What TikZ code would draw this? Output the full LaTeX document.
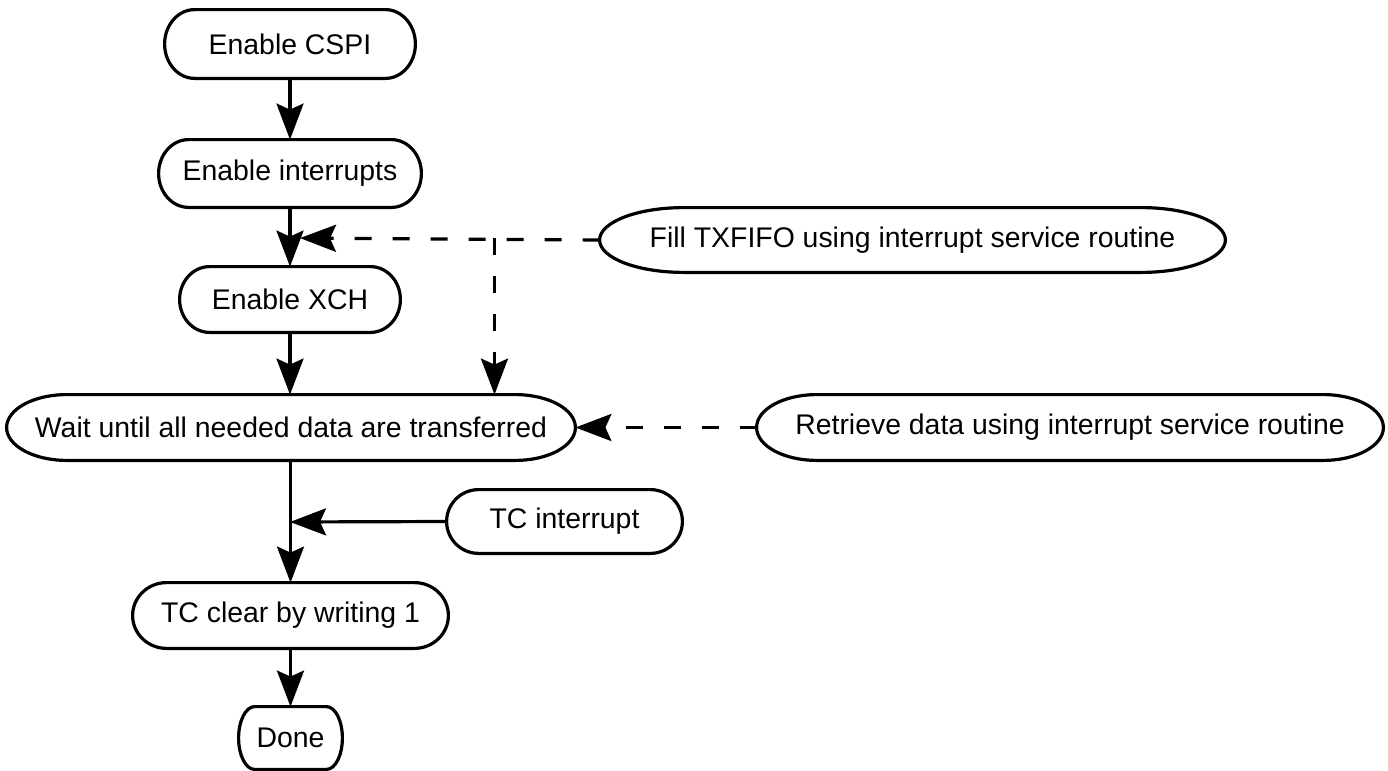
\documentclass[tikz,border=0pt]{standalone}
\usepackage{fontspec}
\setmainfont{Liberation Sans}
\usetikzlibrary{arrows.meta,calc}
\newcommand\boxoutline[2]{%
  \draw[ln] let \p1=(#1.north west), \p2=(#1.south east), \n1={0.5*(\y1-\y2)} in
    (\x1+#2,\y1) -- (\x2-#2,\y1)
    arc[start angle=90,end angle=-90,x radius=#2,y radius={\n1*1pt}]
    -- (\x1+#2,\y2)
    arc[start angle=270,end angle=90,x radius=#2,y radius={\n1*1pt}] -- cycle;}
\begin{document}
\begin{tikzpicture}[x=0.5pt,y=-0.5pt,
  lbl/.style={draw=none,inner sep=0pt,font=\fontsize{14.2}{16}\selectfont},
  ln/.style={line width=1.6pt},
  arr/.style={ln,-{Stealth[length=18pt,width=13.5pt,inset=3pt]}},
  dsh/.style={dash pattern=on 8.5pt off 10.5pt}]
\path[use as bounding box] (0,0) rectangle (1388,771);
% nodes
\node[lbl,minimum width=125pt,minimum height=34pt] (cspi) at (290,44) {Enable CSPI};
\node[lbl,minimum width=131pt,minimum height=33.5pt] (intr) at (290,173.5) {Enable interrupts};
\node[lbl,minimum width=110pt,minimum height=32.5pt] (xch) at (290,299.5) {Enable XCH};
\node[lbl,minimum width=284pt,minimum height=32.5pt] (wait) at (291,427.5) {Wait until all needed data are transferred};
\node[lbl,minimum width=312.5pt,minimum height=32pt] (fill) at (912.5,240) {Fill TXFIFO using interrupt service routine};
\node[lbl,minimum width=313pt,minimum height=32.5pt] (retr) at (1070,427.5) {Retrieve data using interrupt service routine};
\node[lbl,minimum width=117.5pt,minimum height=31.5pt] (tcint) at (564.5,521.5) {TC interrupt};
\node[lbl,minimum width=157.5pt,minimum height=32.5pt] (tcclr) at (290.5,615.5) {TC clear by writing 1};
\node[lbl,minimum width=51.5pt,minimum height=31pt] (done) at (290.5,738) {Done};
% outlines
\boxoutline{cspi}{15pt}
\boxoutline{intr}{15pt}
\boxoutline{xch}{15pt}
\boxoutline{wait}{30pt}
\boxoutline{fill}{42pt}
\boxoutline{retr}{30pt}
\boxoutline{tcint}{16pt}
\boxoutline{tcclr}{17pt}
\boxoutline{done}{8pt}
% helper points
\coordinate (j1) at (290,238);
\coordinate (j2) at (494.5,238);
\coordinate (j3) at (290,522);
% connectors
\draw[arr] (cspi.south) -- (intr.north);
\draw[arr] (intr.south) -- (xch.north);
\draw[arr] (xch.south) -- (wait.north -| xch.south);
\draw[arr,dsh,shorten >=5pt] (fill.west) -- (j1);
\draw[arr,dsh] (j2) -- (j2 |- wait.north);
\draw[arr,dsh] (retr.west) -- (wait.east);
\draw[arr] (wait.south -| tcclr.north) -- (tcclr.north);
\draw[arr] (tcint.west) -- (j3);
\draw[arr] (tcclr.south) -- (done.north);
\end{tikzpicture}
\end{document}
